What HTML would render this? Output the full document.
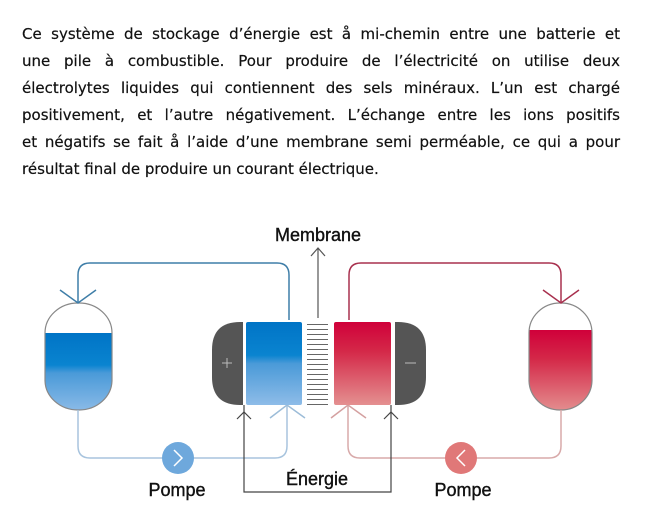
<!DOCTYPE html>
<html><head><meta charset="utf-8"><style>
body{margin:0;background:#fff;width:649px;height:526px;overflow:hidden;position:relative}
.t{position:absolute;left:22px;width:598px;font-family:"DejaVu Sans","Liberation Sans",sans-serif;font-size:15px;color:#111;white-space:nowrap;-webkit-text-stroke:0.2px #111}
.j{text-align:justify;text-align-last:justify}
svg{position:absolute;left:0;top:0}
.lb{font-family:"Liberation Sans",sans-serif;font-size:18px;fill:#111;stroke:#111;stroke-width:0.4}
</style></head><body>
<div class="t j" style="top:25px">Ce système de stockage d’énergie est å mi-chemin entre une batterie et</div>
<div class="t j" style="top:52px">une pile à combustible. Pour produire de l’électricité on utilise deux</div>
<div class="t j" style="top:79px">électrolytes liquides qui contiennent des sels minéraux. L’un est chargé</div>
<div class="t j" style="top:106px">positivement, et l’autre négativement. L’échange entre les ions positifs</div>
<div class="t j" style="top:133px">et négatifs se fait å l’aide d’une membrane semi perméable, ce qui a pour</div>
<div class="t" style="top:160px">résultat final de produire un courant électrique.</div>
<svg width="649" height="526" viewBox="0 0 649 526">
<defs>
<linearGradient id="b" x1="0" y1="0" x2="0" y2="1"><stop offset="0" stop-color="#0074c6"/><stop offset="0.4" stop-color="#0a84d0"/><stop offset="0.5" stop-color="#4a9ad8"/><stop offset="1" stop-color="#8ebce8"/></linearGradient>
<linearGradient id="r" x1="0" y1="0" x2="0" y2="1"><stop offset="0" stop-color="#d0003a"/><stop offset="0.35" stop-color="#d42848"/><stop offset="1" stop-color="#e49090"/></linearGradient>
<clipPath id="lt"><rect x="45" y="303" width="67" height="107" rx="33" ry="30"/></clipPath>
<clipPath id="rt"><rect x="529" y="303" width="63" height="107" rx="31" ry="30"/></clipPath>
</defs>
<g clip-path="url(#lt)"><rect x="45" y="333" width="67" height="80" fill="url(#b)"/></g>
<rect x="45" y="303" width="67" height="107" rx="33" ry="30" fill="none" stroke="#888" stroke-width="1.2"/>
<g clip-path="url(#rt)"><rect x="529" y="330" width="63" height="82" fill="url(#r)"/></g>
<rect x="529" y="303" width="63" height="107" rx="31" ry="30" fill="none" stroke="#888" stroke-width="1.2"/>
<path d="M289 320 V275 Q289 263 277 263 H90 Q78 263 78 275 V303" fill="none" stroke="#3f7ea8" stroke-width="1.5"/>
<path d="M60 290 L78 303 L96 290" fill="none" stroke="#3f7ea8" stroke-width="1.5"/>
<path d="M349 320 V275 Q349 263 361 263 H549 Q561 263 561 275 V303" fill="none" stroke="#a8304e" stroke-width="1.5"/>
<path d="M543 290 L561 303 L579 290" fill="none" stroke="#a8304e" stroke-width="1.5"/>
<path d="M318 318 V248 M311 256 L318 248 L325 256" fill="none" stroke="#555" stroke-width="1.2"/>
<path d="M78 410 V446 Q78 458 90 458 H275 Q287 458 287 446 V405" fill="none" stroke="#a8c4de" stroke-width="1.5"/>
<path d="M270 418 L287 405 L305 418" fill="none" stroke="#9cbcd8" stroke-width="1.5"/>
<path d="M561 410 V446 Q561 458 549 458 H360 Q348 458 348 446 V405" fill="none" stroke="#d8aaaa" stroke-width="1.5"/>
<path d="M331 418 L348 405 L366 418" fill="none" stroke="#d4a0a0" stroke-width="1.5"/>
<path d="M244 405 V492 H391 V405" fill="none" stroke="#444" stroke-width="1.2"/>
<path d="M237 419 L244 412 L251 419 M384 419 L391 412 L398 419" fill="none" stroke="#444" stroke-width="1.2"/>
<path d="M243 322 V405 H240 Q212 405 212 377 V350 Q212 322 240 322 Z" fill="#555"/>
<path d="M395 322 V405 H398 Q426 405 426 377 V350 Q426 322 398 322 Z" fill="#555"/>
<path d="M222 363 H232 M227 358 V368" stroke="#bbb" stroke-width="1"/>
<path d="M405 363 H416" stroke="#bbb" stroke-width="1"/>
<rect x="246" y="322" width="56" height="83" rx="2" fill="url(#b)"/>
<rect x="334" y="322" width="57" height="83" rx="2" fill="url(#r)"/>
<g stroke="#666" stroke-width="1.1">
<path d="M307 324.5H328M307 329.5H328M307 334.5H328M307 339.5H328M307 344.5H328M307 349.5H328M307 354.5H328M307 359.5H328M307 364.5H328M307 369.5H328M307 374.5H328M307 379.5H328M307 384.5H328M307 389.5H328M307 394.5H328M307 399.5H328M307 404.5H328"/>
</g>
<circle cx="178" cy="458" r="16" fill="#6ea8dc"/>
<path d="M174 450 L182 458 L174 466" fill="none" stroke="#fff" stroke-width="1.5"/>
<circle cx="461" cy="458" r="16" fill="#e07878"/>
<path d="M465 450 L457 458 L465 466" fill="none" stroke="#fff" stroke-width="1.5"/>
<text class="lb" x="318" y="241" text-anchor="middle">Membrane</text>
<text class="lb" x="317" y="485" text-anchor="middle">Énergie</text>
<text class="lb" x="177" y="496" text-anchor="middle">Pompe</text>
<text class="lb" x="463" y="496" text-anchor="middle">Pompe</text>
</svg>
</body></html>
